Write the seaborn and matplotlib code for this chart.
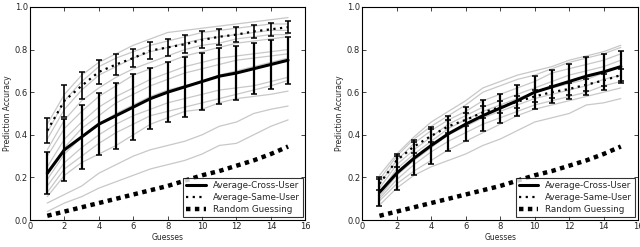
import numpy as np
import pandas as pd
import matplotlib
matplotlib.use('Agg')
import matplotlib.pyplot as plt
import seaborn as sns

sns.set_style('ticks', {'xtick.direction': 'in', 'ytick.direction': 'in'})
plt.rcParams['font.family'] = ['DejaVu Sans']

guesses = list(range(1, 16))

# left panel
left_cross = [0.22, 0.33, 0.39, 0.45, 0.49, 0.53, 0.57, 0.60, 0.625, 0.65, 0.675, 0.69, 0.71, 0.73, 0.75]
left_cross_err = [0.10, 0.145, 0.15, 0.145, 0.155, 0.155, 0.145, 0.14, 0.14, 0.135, 0.13, 0.125, 0.12, 0.115, 0.11]
left_same = [0.42, 0.56, 0.63, 0.695, 0.73, 0.76, 0.795, 0.81, 0.825, 0.845, 0.86, 0.87, 0.885, 0.895, 0.905]
left_same_err = [0.058, 0.075, 0.063, 0.058, 0.048, 0.043, 0.04, 0.04, 0.042, 0.04, 0.038, 0.035, 0.03, 0.03, 0.028]
left_users = [
    [0.45, 0.59, 0.68, 0.74, 0.78, 0.82, 0.85, 0.88, 0.89, 0.90, 0.91, 0.92, 0.93, 0.94, 0.95],
    [0.41, 0.56, 0.65, 0.72, 0.76, 0.79, 0.82, 0.84, 0.86, 0.88, 0.89, 0.90, 0.91, 0.92, 0.92],
    [0.38, 0.52, 0.61, 0.68, 0.72, 0.76, 0.79, 0.81, 0.83, 0.85, 0.86, 0.87, 0.88, 0.89, 0.89],
    [0.33, 0.47, 0.56, 0.62, 0.67, 0.71, 0.74, 0.77, 0.80, 0.82, 0.83, 0.85, 0.86, 0.87, 0.87],
    [0.30, 0.43, 0.51, 0.58, 0.63, 0.68, 0.71, 0.74, 0.77, 0.79, 0.81, 0.83, 0.84, 0.85, 0.86],
    [0.25, 0.38, 0.46, 0.53, 0.58, 0.62, 0.66, 0.69, 0.72, 0.74, 0.76, 0.77, 0.78, 0.79, 0.80],
    [0.21, 0.34, 0.43, 0.49, 0.55, 0.59, 0.63, 0.66, 0.69, 0.71, 0.73, 0.75, 0.76, 0.77, 0.78],
    [0.19, 0.31, 0.39, 0.45, 0.50, 0.54, 0.58, 0.61, 0.63, 0.65, 0.68, 0.70, 0.72, 0.74, 0.76],
    [0.16, 0.27, 0.34, 0.40, 0.45, 0.49, 0.52, 0.55, 0.57, 0.59, 0.61, 0.62, 0.63, 0.65, 0.67],
    [0.13, 0.24, 0.30, 0.36, 0.41, 0.45, 0.49, 0.51, 0.53, 0.55, 0.57, 0.59, 0.61, 0.63, 0.655],
    [0.11, 0.21, 0.27, 0.31, 0.35, 0.40, 0.45, 0.48, 0.51, 0.52, 0.55, 0.57, 0.58, 0.59, 0.605],
    [0.08, 0.12, 0.16, 0.22, 0.26, 0.30, 0.33, 0.35, 0.37, 0.40, 0.44, 0.46, 0.50, 0.52, 0.535],
    [0.04, 0.08, 0.11, 0.15, 0.18, 0.21, 0.24, 0.26, 0.28, 0.31, 0.35, 0.36, 0.40, 0.44, 0.47],
]

# right panel
right_cross = [0.13, 0.22, 0.29, 0.35, 0.405, 0.45, 0.49, 0.525, 0.56, 0.60, 0.625, 0.65, 0.675, 0.695, 0.72]
right_cross_err = [0.065, 0.08, 0.077, 0.085, 0.083, 0.08, 0.073, 0.068, 0.073, 0.078, 0.078, 0.08, 0.09, 0.085, 0.075]
right_same = [0.17, 0.28, 0.345, 0.395, 0.44, 0.47, 0.505, 0.53, 0.555, 0.58, 0.60, 0.615, 0.635, 0.655, 0.68]
right_same_err = [0.03, 0.03, 0.03, 0.03, 0.03, 0.03, 0.028, 0.028, 0.028, 0.028, 0.028, 0.028, 0.028, 0.028, 0.028]
right_users = [
    [0.21, 0.31, 0.39, 0.46, 0.51, 0.56, 0.62, 0.65, 0.68, 0.70, 0.72, 0.75, 0.77, 0.79, 0.82],
    [0.19, 0.30, 0.38, 0.44, 0.49, 0.54, 0.60, 0.63, 0.66, 0.68, 0.71, 0.74, 0.76, 0.78, 0.81],
    [0.17, 0.28, 0.36, 0.42, 0.47, 0.51, 0.56, 0.59, 0.62, 0.65, 0.69, 0.71, 0.73, 0.75, 0.78],
    [0.15, 0.26, 0.33, 0.39, 0.45, 0.49, 0.53, 0.56, 0.59, 0.62, 0.65, 0.68, 0.70, 0.72, 0.75],
    [0.13, 0.24, 0.31, 0.37, 0.43, 0.47, 0.51, 0.54, 0.57, 0.60, 0.62, 0.64, 0.66, 0.69, 0.72],
    [0.11, 0.21, 0.28, 0.34, 0.40, 0.44, 0.48, 0.51, 0.54, 0.57, 0.59, 0.61, 0.63, 0.66, 0.68],
    [0.10, 0.19, 0.26, 0.32, 0.37, 0.41, 0.45, 0.48, 0.51, 0.54, 0.56, 0.58, 0.60, 0.63, 0.65],
    [0.09, 0.17, 0.23, 0.28, 0.33, 0.37, 0.41, 0.45, 0.49, 0.52, 0.54, 0.56, 0.58, 0.60, 0.62],
    [0.07, 0.15, 0.21, 0.25, 0.28, 0.31, 0.35, 0.38, 0.42, 0.46, 0.48, 0.50, 0.54, 0.55, 0.57],
]

random_guess = [0.02, 0.04, 0.06, 0.08, 0.10, 0.12, 0.14, 0.16, 0.185, 0.21, 0.23, 0.255, 0.28, 0.31, 0.345]


def draw_panel(ax, users, cross, cross_err, same, same_err):
    for u in users:
        sns.lineplot(x=guesses, y=u, ax=ax, color='#c8c8c8', lw=0.9, legend=False)
    ax.errorbar(guesses, same, yerr=same_err, fmt='none', ecolor='black',
                elinewidth=1.2, capsize=2, capthick=1.1, zorder=3)
    ax.errorbar(guesses, cross, yerr=cross_err, fmt='none', ecolor='black',
                elinewidth=1.6, capsize=2, capthick=1.1, zorder=3)
    sns.lineplot(x=guesses, y=cross, ax=ax, color='black', lw=2.2,
                 label='Average-Cross-User', zorder=4)
    sns.lineplot(x=guesses, y=same, ax=ax, color='black', lw=1.6,
                 linestyle=(0, (1, 2)), label='Average-Same-User', zorder=4)
    sns.lineplot(x=guesses, y=random_guess, ax=ax, color='black', lw=3.2,
                 linestyle=(0, (1, 1)), label='Random Guessing', zorder=4)
    ax.set_xlim(0, 16)
    ax.set_ylim(0, 1.0)
    ax.set_xticks(range(0, 17, 2))
    ax.set_yticks([0.0, 0.2, 0.4, 0.6, 0.8, 1.0])
    ax.set_yticklabels(['0.0', '0.2', '0.4', '0.6', '0.8', '1.0'])
    ax.tick_params(direction='in', top=True, right=True, labelsize=6,
                   length=3, width=0.6, pad=1.5)
    for s in ax.spines.values():
        s.set_visible(True)
        s.set_linewidth(0.8)
        s.set_color('black')
    ax.set_xlabel('Guesses', fontsize=5.5, labelpad=1)
    ax.set_ylabel('Prediction Accuracy', fontsize=5.5, labelpad=2)
    leg = ax.legend(loc='lower right', fontsize=6.3, frameon=True, fancybox=False,
                    handlelength=2.2, borderpad=0.35, labelspacing=0.35,
                    borderaxespad=0.3)
    leg.get_frame().set_edgecolor('black')
    leg.get_frame().set_linewidth(0.8)


fig = plt.figure(figsize=(6.4, 2.47), dpi=100)
ax1 = fig.add_axes([0.047, 0.109, 0.430, 0.863])
ax2 = fig.add_axes([0.566, 0.109, 0.431, 0.863])

draw_panel(ax1, left_users, left_cross, left_cross_err, left_same, left_same_err)
draw_panel(ax2, right_users, right_cross, right_cross_err, right_same, right_same_err)

fig.savefig('out.png', dpi=100)
